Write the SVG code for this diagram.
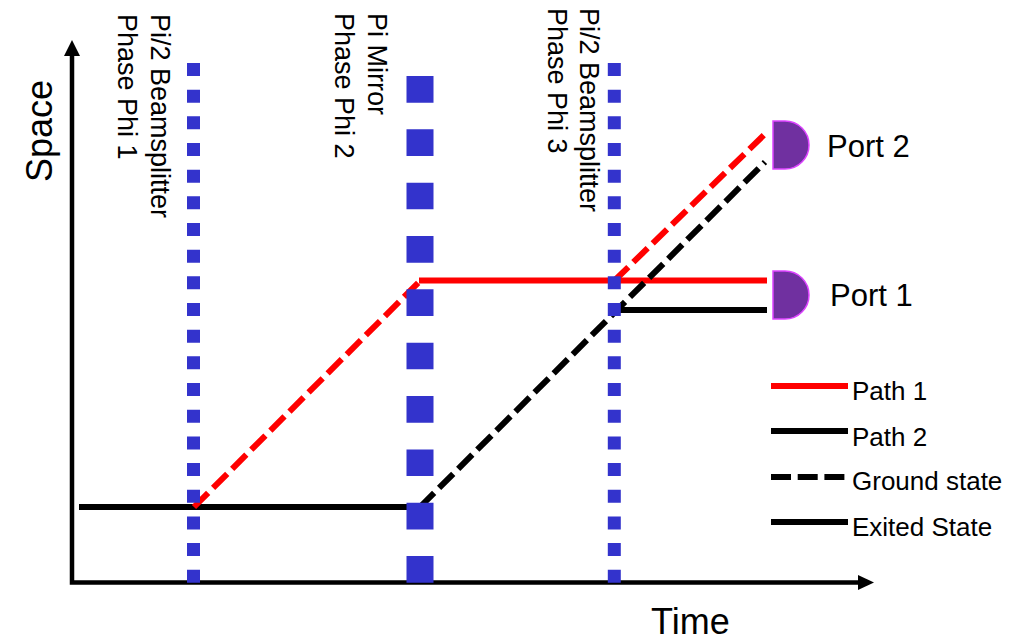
<svg xmlns="http://www.w3.org/2000/svg" width="1021" height="643" viewBox="0 0 1021 643">
<style>
text{font-family:"Liberation Sans",Arial,sans-serif;fill:#000}
.big{font-size:36px}
.lab{font-size:27px}
.port{font-size:31px}
.leg{font-size:26px}
.axis{stroke:#000;stroke-width:4.5;fill:none}
.p{fill:none;stroke-width:6}
.red{stroke:#FF0000}
.blk{stroke:#000}
.dash{stroke-dasharray:20 7}
.bs{stroke:#3333CC;stroke-width:13;stroke-dasharray:13 13.67;fill:none}
.mir{stroke:#3333CC;stroke-width:27;stroke-dasharray:26.67 26.67;fill:none}
.det{fill:#7030A0;stroke:#DD44FF;stroke-width:1.5}
</style>
<rect width="1021" height="643" fill="#fff"/>
<g id="axes">
<path class="axis" d="M72,52 V582.5 H862"/>
<polygon points="72,40 64,56 80,56" fill="#000"/>
<polygon points="874,582.5 858,575 858,590" fill="#000"/>
<text class="big" transform="translate(52,131) rotate(-90)" text-anchor="middle">Space</text>
<text class="big" x="651" y="634">Time</text>
</g>
<g id="connectors">
<line class="p blk" x1="79" y1="507" x2="420" y2="507"/>
<line class="p red dash" x1="194" y1="507" x2="420" y2="281"/>
<line class="p red" x1="419" y1="280.5" x2="767" y2="280.5"/>
<line class="p blk dash" x1="420" y1="507" x2="765" y2="162"/>
<line class="p red dash" x1="614" y1="281" x2="765" y2="134"/>
<line class="p blk" x1="614" y1="310" x2="767" y2="310"/>
</g>
<g id="beamsplitter1">
<line class="bs" x1="193.5" y1="63" x2="193.5" y2="582.7"/>
<text class="lab" transform="translate(151,14) rotate(90)">Pi/2 Beamsplitter</text>
<text class="lab" transform="translate(118,14) rotate(90)">Phase Phi 1</text>
</g>
<g id="mirror">
<line class="mir" x1="420" y1="76" x2="420" y2="582.7"/>
<text class="lab" transform="translate(368,13) rotate(90)">Pi Mirror</text>
<text class="lab" transform="translate(335,13) rotate(90)">Phase Phi 2</text>
</g>
<g id="beamsplitter2">
<line class="bs" x1="614.3" y1="63" x2="614.3" y2="582.7"/>
<text class="lab" transform="translate(580,8) rotate(90)">Pi/2 Beamsplitter</text>
<text class="lab" transform="translate(548,8) rotate(90)">Phase Phi 3</text>
</g>
<g id="port2">
<path class="det" d="M773,121 H785 A24,24 0 0 1 785,169 H773 Z"/>
<text class="port" x="827" y="157">Port 2</text>
</g>
<g id="port1">
<path class="det" d="M773,271 H785 A24,24 0 0 1 785,319 H773 Z"/>
<text class="port" x="830" y="306">Port 1</text>
</g>
<g id="legend">
<line class="p red" x1="771" y1="386" x2="848" y2="386"/>
<text class="leg" x="852" y="400">Path 1</text>
<line class="p blk" x1="771" y1="431" x2="848" y2="431"/>
<text class="leg" x="852" y="446">Path 2</text>
<line class="p blk" x1="771" y1="477" x2="845" y2="477" stroke-dasharray="20 6.7"/>
<text class="leg" x="852" y="490">Ground state</text>
<line class="p blk" x1="771" y1="522" x2="848" y2="522"/>
<text class="leg" x="852" y="536">Exited State</text>
</g>
</svg>
